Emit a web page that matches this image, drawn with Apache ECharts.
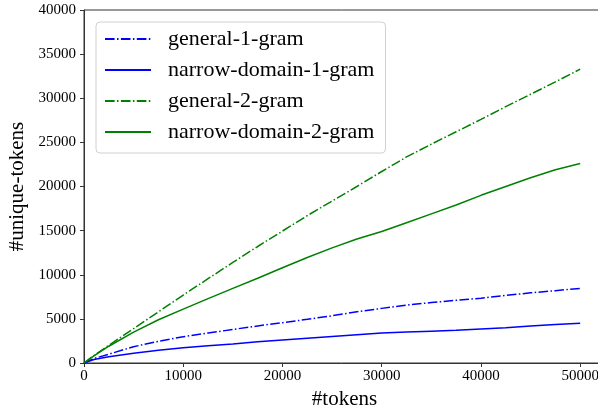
<!DOCTYPE html>
<html>
<head>
<meta charset="utf-8">
<script src="https://cdn.jsdelivr.net/npm/echarts@6/dist/echarts.min.js"></script>
<style>html,body{margin:0;padding:0;background:#fff;}#c{width:598px;height:410px;}</style>
</head>
<body>
<div id="c"></div>
<script>
const tokens = [0, 1000, 2500, 5000, 7500, 10000, 12500, 15000, 17500, 20000, 22500, 25000, 27500, 30000, 32500, 35000, 37500, 40000, 42500, 45000, 47500, 50000];
const general1 = [0, 500, 1000, 1850, 2450, 2980, 3400, 3800, 4200, 4570, 4950, 5350, 5800, 6190, 6550, 6850, 7100, 7350, 7650, 7950, 8200, 8460];
const narrow1 = [0, 400, 710, 1100, 1450, 1740, 1950, 2150, 2400, 2600, 2800, 3000, 3200, 3400, 3500, 3600, 3700, 3850, 4000, 4200, 4350, 4500];
const general2 = [0, 850, 2000, 3900, 5800, 7700, 9550, 11400, 13200, 14950, 16700, 18350, 20000, 21700, 23350, 24800, 26200, 27600, 29050, 30450, 31850, 33300];
const narrow2 = [0, 800, 1900, 3500, 4900, 6100, 7300, 8450, 9600, 10800, 11950, 13050, 14050, 14900, 15900, 16900, 17900, 19000, 20000, 21000, 21900, 22600];
const seriesNames = ['general-1-gram', 'narrow-domain-1-gram', 'general-2-gram', 'narrow-domain-2-gram'];
const xTitle = '#tokens';
const yTitle = '#unique-tokens';

const FONT = '"Liberation Serif", "DejaVu Serif", serif';
const BLUE = '#0000ff';
const GREEN = '#008000';
const DASHDOT = [9.6, 2.4, 1.5, 2.4];

function pairs(ys) { return tokens.map((x, i) => [x, ys[i]]); }

function mk(name, ys, color, dashed) {
  return {
    name: name,
    type: 'line',
    data: pairs(ys),
    symbol: 'none',
    showSymbol: false,
    smooth: false,
    lineStyle: { color: color, width: 1.5, type: dashed ? DASHDOT : 'solid' },
    itemStyle: { color: color },
    z: 3
  };
}

const chart = echarts.init(document.getElementById('c'), null, { renderer: 'canvas' });
chart.setOption({
  animation: false,
  backgroundColor: '#fff',
  grid: { left: 84, top: 10, bottom: 47, right: -7, outerBoundsMode: 'none', containLabel: false,
    show: true, borderColor: '#333', borderWidth: 1, backgroundColor: 'transparent' },
  xAxis: {
    type: 'value', min: 0, max: 52500, interval: 10000,
    name: xTitle, nameLocation: 'middle', nameGap: 24,
    nameTextStyle: { fontFamily: FONT, fontSize: 21, color: '#000' },
    axisLine: { show: true, lineStyle: { color: '#333', width: 1 } },
    axisTick: { show: true, length: 4, lineStyle: { color: '#333' } },
    axisLabel: { fontFamily: FONT, fontSize: 15, color: '#000', margin: 6, showMaxLabel: false,
      formatter: v => (v % 10000 === 0 ? String(v) : '') },
    splitLine: { show: false }
  },
  yAxis: {
    type: 'value', min: 0, max: 40000, interval: 5000,
    name: yTitle, nameLocation: 'middle', nameGap: 44,
    nameTextStyle: { fontFamily: FONT, fontSize: 21, color: '#000' },
    axisLine: { show: true, lineStyle: { color: '#333', width: 1 } },
    axisTick: { show: true, length: 4, lineStyle: { color: '#333' } },
    axisLabel: { fontFamily: FONT, fontSize: 15, color: '#000', margin: 8, formatter: v => String(v) },
    splitLine: { show: false }
  },
  legend: {
    orient: 'vertical',
    left: 96, top: 22,
    data: seriesNames,
    itemWidth: 46, itemHeight: 14, itemGap: 9,
    padding: [6, 11, 10, 8],
    backgroundColor: 'rgba(255,255,255,0.8)',
    borderColor: '#d0d0d0', borderWidth: 1, borderRadius: 4,
    itemStyle: { opacity: 0 },
    textStyle: { fontFamily: FONT, fontSize: 22, color: '#000', lineHeight: 22, padding: [0, 0, 0, 12] }
  },
  series: [
    mk(seriesNames[0], general1, BLUE, true),
    mk(seriesNames[1], narrow1, BLUE, false),
    mk(seriesNames[2], general2, GREEN, true),
    mk(seriesNames[3], narrow2, GREEN, false)
  ]
});
</script>
</body>
</html>
